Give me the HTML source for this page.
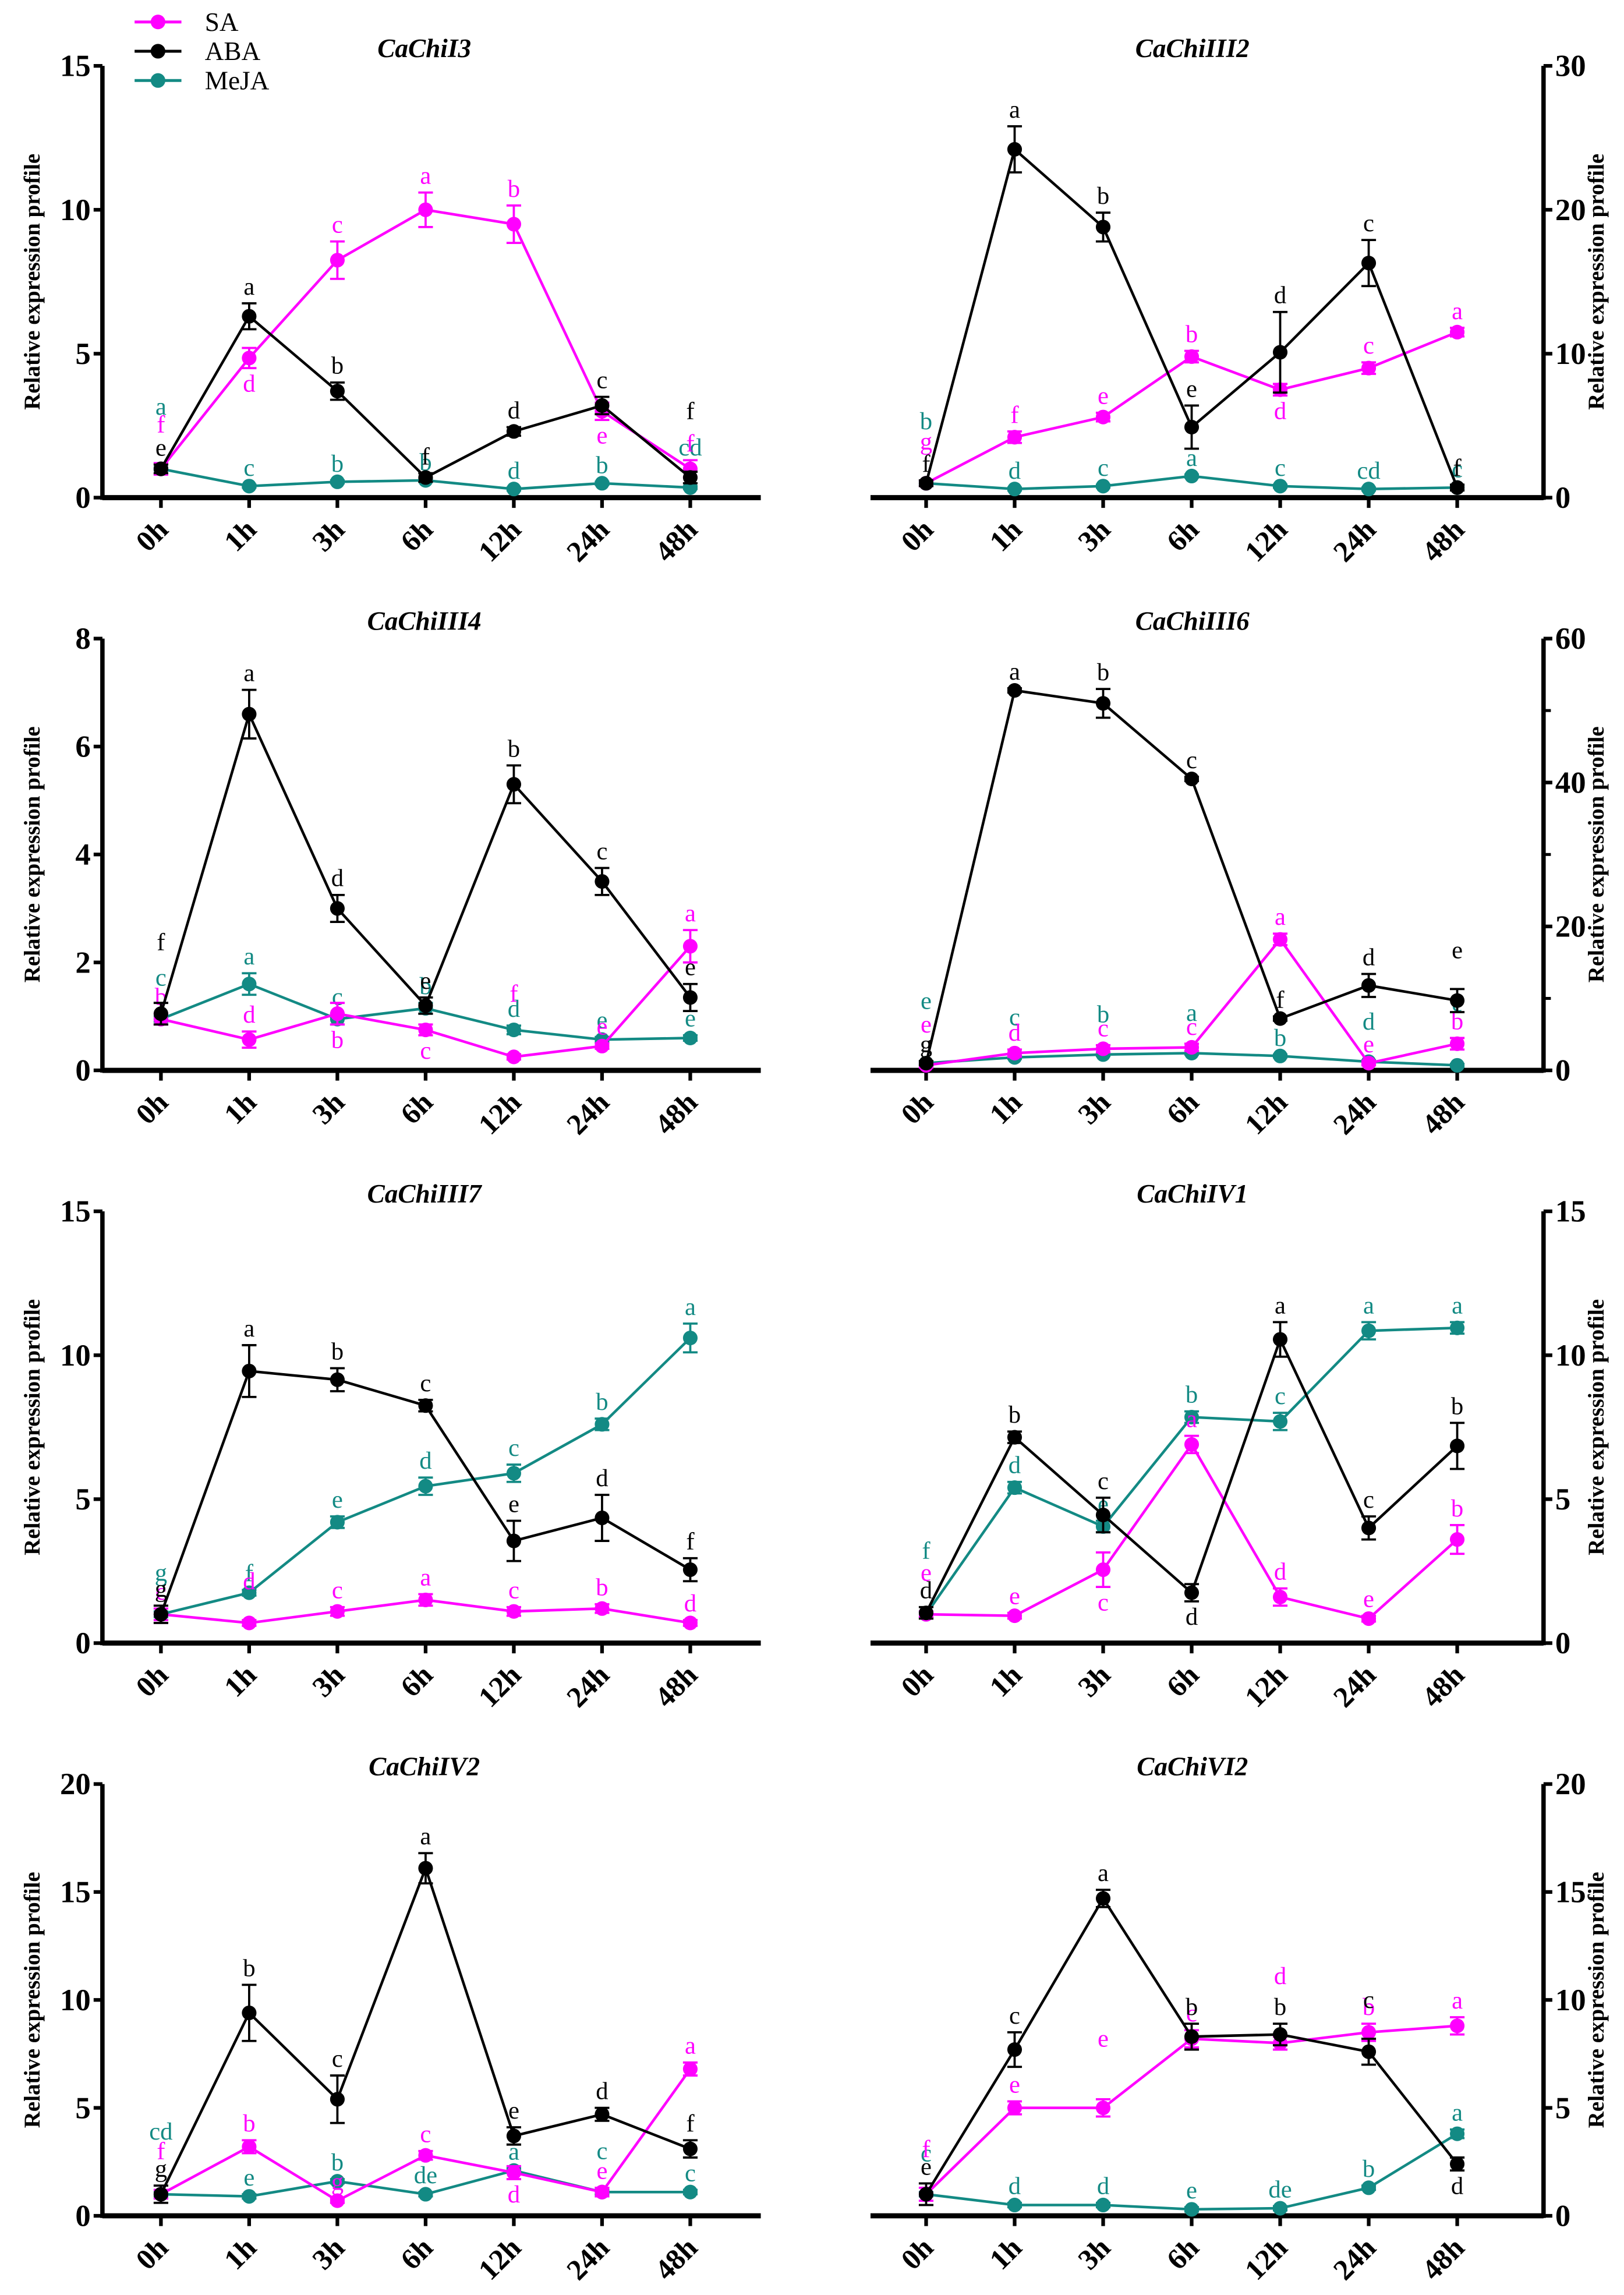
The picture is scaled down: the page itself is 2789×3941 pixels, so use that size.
<!DOCTYPE html>
<html><head><meta charset="utf-8"><style>
html,body{margin:0;padding:0;background:#fff;}
svg{display:block;}
text{font-family:"Liberation Serif",serif;}
</style></head><body>
<svg id="fig" width="2789" height="3941" viewBox="0 0 1110 1568" preserveAspectRatio="none" xmlns="http://www.w3.org/2000/svg">
<rect width="1110" height="1568" fill="#fff"/>
<g>
  <g><line x1="92" y1="15" x2="124" y2="15" stroke="#ff00ff" stroke-width="2"/><circle cx="108" cy="15" r="5" fill="#ff00ff"/><text x="140" y="21" font-size="18">SA</text></g>
  <g><line x1="92" y1="35" x2="124" y2="35" stroke="#000" stroke-width="2"/><circle cx="108" cy="35" r="5" fill="#000"/><text x="140" y="41" font-size="18">ABA</text></g>
  <g><line x1="92" y1="55" x2="124" y2="55" stroke="#138a84" stroke-width="2"/><circle cx="108" cy="55" r="5" fill="#138a84"/><text x="140" y="61" font-size="18">MeJA</text></g>
</g>
</svg>
<script>
const categories = ["0h","1h","3h","6h","12h","24h","48h"];
const titles = ["CaChiI3","CaChiIII2","CaChiIII4","CaChiIII6","CaChiIII7","CaChiIV1","CaChiIV2","CaChiVI2"];
const yMax = [15,30,8,60,15,15,20,20];
const yStep = [5,10,2,20,5,5,5,5];
const saValues = [
 [1,4.85,8.25,10,9.5,3.0,1.0],
 [1,4.2,5.6,9.8,7.5,9,11.5],
 [0.95,0.57,1.05,0.75,0.25,0.45,2.3],
 [0.7,2.4,3,3.2,18.2,1,3.7],
 [1,0.7,1.1,1.5,1.1,1.2,0.7],
 [1,0.95,2.55,6.9,1.6,0.85,3.6],
 [1,3.2,0.7,2.8,2,1.1,6.8],
 [1,5,5,8.2,8,8.5,8.8]];
const saErrors = [
 [0.2,0.35,0.65,0.6,0.65,0.3,0.3],[0.2,0.4,0.3,0.4,0.4,0.4,0.3],[0.1,0.15,0.2,0.1,0.05,0.05,0.3],[0.3,0.5,0.5,0.5,0.8,0.3,0.8],
 [0.2,0.1,0.15,0.2,0.15,0.15,0.1],[0.1,0.1,0.6,0.3,0.3,0.1,0.5],[0.2,0.3,0.1,0.2,0.3,0.2,0.3],[0.3,0.3,0.4,0.4,0.3,0.4,0.4]];
const abaValues = [
 [1,6.3,3.7,0.7,2.3,3.2,0.7],
 [1,24.2,18.8,4.9,10.1,16.3,0.7],
 [1.05,6.6,3.0,1.2,5.3,3.5,1.35],
 [1,52.8,51,40.5,7.2,11.8,9.7],
 [1,9.45,9.15,8.25,3.55,4.35,2.55],
 [1.05,7.15,4.45,1.75,10.55,4,6.85],
 [1,9.4,5.4,16.1,3.7,4.7,3.1],
 [1,7.7,14.7,8.3,8.4,7.6,2.4]];
const abaErrors = [
 [0.15,0.45,0.3,0.15,0.15,0.3,0.2],[0.2,1.6,1,1.5,2.8,1.6,0.2],[0.2,0.45,0.25,0.15,0.35,0.25,0.25],[0.3,0.3,2,0.3,0.3,1.6,1.6],
 [0.3,0.9,0.4,0.2,0.7,0.8,0.4],[0.2,0.2,0.6,0.3,0.6,0.4,0.8],[0.4,1.3,1.1,0.7,0.4,0.3,0.4],[0.5,0.8,0.4,0.6,0.5,0.6,0.3]];
const mejaValues = [
 [1,0.4,0.55,0.6,0.3,0.5,0.35],
 [1,0.6,0.8,1.5,0.8,0.6,0.7],
 [0.95,1.6,0.95,1.15,0.75,0.57,0.6],
 [1,1.8,2.2,2.4,2,1.2,0.7],
 [1,1.75,4.2,5.45,5.9,7.6,10.6],
 [1,5.4,4.05,7.85,7.7,10.85,10.95],
 [1,0.9,1.6,1.0,2.1,1.1,1.1],
 [1,0.5,0.5,0.3,0.35,1.3,3.8]];
const mejaErrors = [
 [0.05,0.05,0.05,0.05,0.05,0.05,0.05],[0.1,0.1,0.1,0.1,0.1,0.1,0.1],[0.05,0.2,0.1,0.1,0.08,0.05,0.05],[0.2,0.2,0.2,0.2,0.2,0.2,0.2],
 [0.1,0.1,0.2,0.3,0.3,0.2,0.5],[0.1,0.2,0.2,0.2,0.3,0.3,0.2],[0.1,0.1,0.1,0.1,0.1,0.1,0.1],[0.1,0.1,0.1,0.1,0.1,0.1,0.2]];
// letter codes: "_" prefix = below the point, each "^" = one extra stack level above
const saLetters = [
 ["^f","_d","c","a","b","_e","f"],["^g","f","e","b","_d","c","a"],["b","d","_b","_c","^^f","e","a"],["^e","d","c","c","a","e","b"],
 ["c","^d","c","a","c","b","d"],["^e","e","_c","a","d","e","b"],["^f","b","g","c","_d","e","a"],["^f","e","^^e","c","^^d","b","a"]];
const abaLetters = [
 ["e","a","b","f","d","c","^^f"],["f","a","b","e","d","c","f"],["^^f","a","d","e","b","c","e"],["g","a","b","c","f","d","^e"],
 ["g","a","b","c","e","d","f"],["d","b","c","_d","a","c","b"],["g","b","c","a","e","d","f"],["e","c","a","b","b","^c","_d"]];
const mejaLetters = [
 ["^^a","c","b","b","d","b","^cd"],["^^b","d","c","a","c","cd","c"],["^c","a","c","b","d","e","e"],["^^e","^c","^b","^a","b","^d","^^e"],
 ["^g","f","e","d","c","b","a"],["^^f","d","e","b","c","a","a"],["^^cd","e","b","de","a","^c","c"],["^c","d","d","e","de","b","a"]];

const svg = document.getElementById('fig');
const NS = 'http://www.w3.org/2000/svg';
const COLORS = {sa:'#ff00ff', aba:'#000000', meja:'#138a84'};
function mk(tag, attrs, parent){const e=document.createElementNS(NS,tag);for(const k in attrs)e.setAttribute(k,attrs[k]);parent.appendChild(e);return e;}

for(let p=0;p<8;p++){
  const colIdx=p%2,row=Math.floor(p/2);
  const top=45+row*391.3, bot=top+295;
  const left = colIdx===0;
  const axX = left?70:1055;
  const xStart = left?70:595, xEnd = left?520:1055;
  const x0 = left?110:633, dx = left?60.3:60.5;
  const xs = i=>x0+i*dx;
  const ys = v=>bot-(v/yMax[p])*(bot-top);
  const g=mk('g',{},svg);
  
  
  const t=mk('text',{x:left?290:815,y:top-6,'font-size':18,'font-weight':'bold','font-style':'italic','text-anchor':'middle'},g);
  t.textContent=titles[p];
  
  
  const xa=mk('line',{x1:xStart,y1:bot,x2:xEnd,y2:bot,stroke:'#000','stroke-width':3.5},g);
  
  
  const ya=mk('line',{x1:axX,y1:top,x2:axX,y2:bot+1.5,stroke:'#000','stroke-width':3},g);
  
  
  for(let v=0;v<=yMax[p]+1e-9;v+=yStep[p]){
    const y=ys(v);
    mk('line',{x1:left?axX-6:axX,y1:y,x2:left?axX:axX+6,y2:y,stroke:'#000','stroke-width':2.5},g);
    const tl=mk('text',{x:left?axX-8:axX+8,y:y+7,'font-size':21,'font-weight':'bold','text-anchor':left?'end':'start'},g);
    tl.textContent=String(v);
    
    
  }
  if(p===3){for(let v=10;v<yMax[p];v+=20){const y=ys(v);mk('line',{x1:axX,y1:y,x2:axX+5,y2:y,stroke:'#000','stroke-width':2},g);}}
  const ttl=mk('text',{transform:`translate(${left?27:1096},${(top+bot)/2}) rotate(-90)`,'font-size':15.5,'font-weight':'bold','text-anchor':'middle'},g);
  ttl.textContent='Relative expression profile';
  
  
  categories.forEach((c,i)=>{
    mk('line',{x1:xs(i),y1:bot,x2:xs(i),y2:bot+7,stroke:'#000','stroke-width':2.5},g);
    const xl=mk('text',{transform:`translate(${xs(i)+6},${bot+23}) rotate(-45)`,'font-size':20,'font-weight':'bold','text-anchor':'end'},g);
    xl.textContent=c;
    
    
  });
  const series=[['meja',mejaValues[p],mejaErrors[p],mejaLetters[p]],['sa',saValues[p],saErrors[p],saLetters[p]],['aba',abaValues[p],abaErrors[p],abaLetters[p]]];
  series.forEach(([key,vals,errs,lets])=>{
    const sg=mk('g',{},g);
    
    
    const col=COLORS[key];
    const pl=mk('polyline',{points:vals.map((v,i)=>xs(i)+','+ys(v)).join(' '),fill:'none',stroke:col,'stroke-width':1.8},sg);
    
    
    vals.forEach((v,i)=>{
      const x=xs(i),y=ys(v),e1=ys(v+errs[i]),e2=ys(Math.max(0,v-errs[i]));
      mk('line',{x1:x,y1:e1,x2:x,y2:e2,stroke:col,'stroke-width':1.5},sg);
      mk('line',{x1:x-5,y1:e1,x2:x+5,y2:e1,stroke:col,'stroke-width':1.5},sg);
      mk('line',{x1:x-5,y1:e2,x2:x+5,y2:e2,stroke:col,'stroke-width':1.5},sg);
      const pt=mk('circle',{cx:x,cy:y,r:5,fill:col},sg);
      
      
      let s=lets[i],below=false,lvl=0;
      if(s[0]==='_'){below=true;s=s.slice(1);}
      while(s[0]==='^'){lvl++;s=s.slice(1);}
      const ly=below?(e2+16):(e1-6-lvl*15);
      const lt=mk('text',{x:x,y:ly,'font-size':17,fill:col,'text-anchor':'middle'},sg);
      lt.textContent=s;
      
      
    });
  });
}
</script>
</body></html>
